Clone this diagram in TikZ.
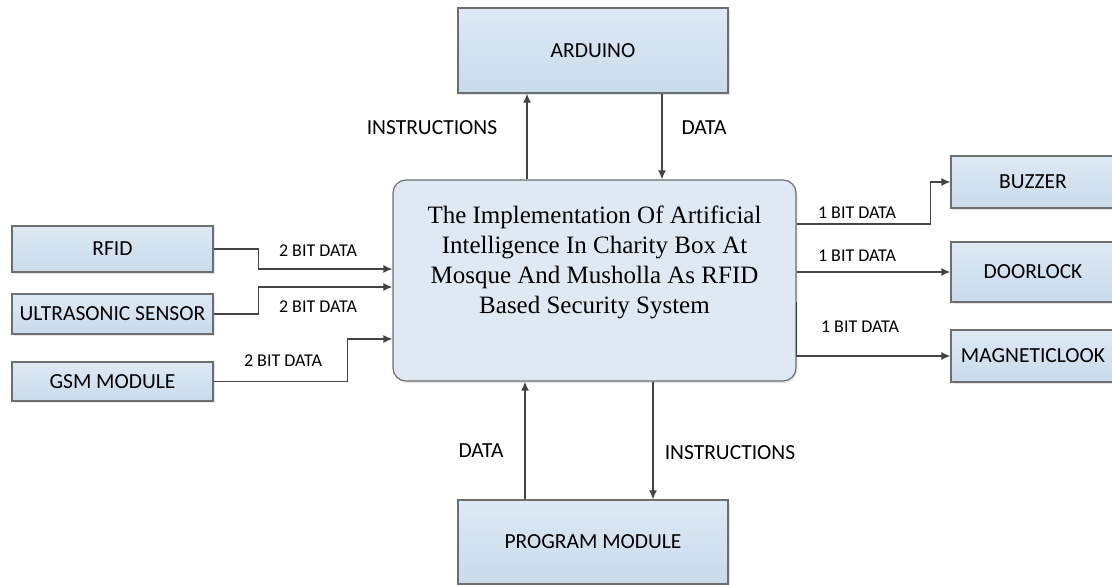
\documentclass[tikz,border=0pt]{standalone}
\usepackage{fontspec}
\setmainfont{Carlito}
\newfontfamily\titlefont{Liberation Serif}
\usetikzlibrary{positioning, arrows.meta, calc, shadows}

\definecolor{boxtop}{HTML}{DEE9F4}
\definecolor{boxbot}{HTML}{C8DBEB}
\definecolor{mainfill}{HTML}{DFE9F4}
\definecolor{edge}{HTML}{6E6E6E}
\definecolor{wire}{HTML}{444444}

\begin{document}
\begin{tikzpicture}[
            x=1pt, y=-1pt,
            block/.style={draw=edge, line width=1.2pt, top color=boxtop, bottom color=boxbot,
                drop shadow={opacity=0.2, shadow xshift=1.5pt, shadow yshift=-2pt},
                minimum width=201pt, font=\fontsize{21.5}{25}\selectfont},
            outblock/.style={block, minimum width=164pt},
            core/.style={draw=edge, line width=1.2pt, fill=mainfill, rounded corners=13pt,
                minimum width=403pt, minimum height=201pt,
                drop shadow={opacity=0.2, shadow xshift=1.5pt, shadow yshift=-2pt}},
            title/.style={align=center, font=\titlefont\fontsize{25}{30}\selectfont},
            lbl/.style={font=\fontsize{21.5}{25}\selectfont},
            bits/.style={font=\fontsize{18}{22}\selectfont},
            arrow/.style={-{Latex[length=9pt,width=8pt]}, draw=wire, line width=1.4pt}
        ]
        \useasboundingbox (0,0) rectangle (1112,585);

        % Central system
        \node[core] (main) at (594.5,280.5) {};
        \node[title] (ttl) at ([yshift=18.5pt]main.center)
            {The Implementation Of Artificial\\Intelligence In Charity Box At\\Mosque And Musholla As RFID\\Based Security System};

        % Controller and program
        \node[block, minimum width=270pt, minimum height=85pt] (arduino) at (593,50.5) {ARDUINO};
        \node[block, minimum width=270pt, minimum height=84pt] (prog) at (593,542) {PROGRAM MODULE};

        % Inputs
        \node[block, minimum height=46pt] (rfid) at (112.5,249) {RFID};
        \node[block, minimum height=40pt] (ultra) at (112.5,314) {ULTRASONIC SENSOR};
        \node[block, minimum height=39pt] (gsm) at (112.5,381.5) {GSM MODULE};

        % Outputs
        \node[outblock, minimum height=52pt] (buzzer) at (1033,182) {BUZZER};
        \node[outblock, minimum height=60pt] (door) at (1033,272) {DOORLOCK};
        \node[outblock, minimum height=52pt] (mag) at (1033,356) {MAGNETICLOOK};

        % Arduino links
        \coordinate (ardL) at ([xshift=-66pt]arduino.south);
        \coordinate (ardR) at ([xshift=69pt]arduino.south);
        \draw[arrow] (ardL |- main.north) -- (ardL);
        \draw[arrow] (ardR) -- (ardR |- main.north);
        \node[lbl] (instrTop) at (432,128) {INSTRUCTIONS};
        \node[lbl] (dataTop) at (704,128) {DATA};

        % Program module links
        \coordinate (progL) at ([xshift=-68pt]prog.north);
        \coordinate (progR) at ([xshift=60pt]prog.north);
        \draw[arrow] (progL) -- (progL |- main.south);
        \draw[arrow] (progR |- main.south) -- (progR);
        \node[lbl] (dataBot) at (481,451) {DATA};
        \node[lbl] (instrBot) at (730,453) {INSTRUCTIONS};

        % Input links
        \draw[arrow] (rfid.east) -- ++(45,0) |- ([yshift=11.5pt]main.west);
        \draw[arrow] (ultra.east) -- ++(45,0) |- ([yshift=-6.5pt]main.west);
        \draw[arrow] (gsm.east) -- ++(134,0) |- ([yshift=-58.5pt]main.west);
        \node[bits] (bitRfid) at (318,251) {2 BIT DATA};
        \node[bits] (bitUltra) at (318,307) {2 BIT DATA};
        \node[bits] (bitGsm) at (283,361) {2 BIT DATA};

        % Output links
        \draw[arrow] ([yshift=56.5pt]main.east) -- ++(134,0) |- (buzzer.west);
        \draw[arrow] (main.east |- door.west) -- (door.west);
        \draw[arrow] ([yshift=-21.5pt]main.east) |- (mag.west);
        \node[bits] (bitBuzz) at (857,213) {1 BIT DATA};
        \node[bits] (bitDoor) at (857,256) {1 BIT DATA};
        \node[bits] (bitMag) at (860,327) {1 BIT DATA};

        \end{tikzpicture}
\end{document}
